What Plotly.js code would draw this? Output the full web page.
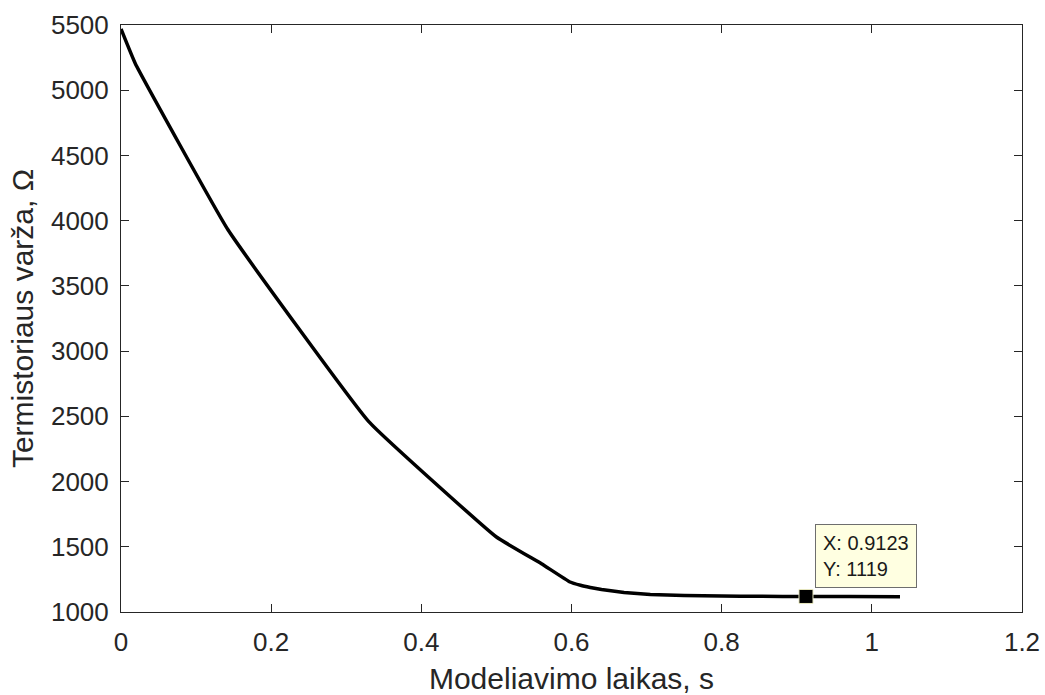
<!DOCTYPE html>
<html>
<head>
<meta charset="utf-8">
<script src="https://cdn.plot.ly/plotly-3.0.1.min.js"></script>
<style>html,body{margin:0;padding:0;background:#fff;}#chart{width:1045px;height:695px;}</style>
</head>
<body>
<div id="chart"></div>
<script>
// Simulation time, s
const timeS = [0, 0.019, 0.1425, 0.33, 0.5, 0.56, 0.598, 0.612, 0.625, 0.64, 0.67, 0.705, 0.75, 0.8, 0.85, 0.9123, 0.97, 1.0375];
// Thermistor resistance, Ohm
const resistance = [5470, 5205, 3930, 2460, 1575, 1370, 1230, 1205, 1188, 1172, 1150, 1135, 1126, 1122, 1120, 1119, 1118, 1117];
// Data tip
const tipX = [0.9123];
const tipY = [1119];
const xTicks = [0, 0.2, 0.4, 0.6, 0.8, 1, 1.2];
const xTickText = ['0', '0.2', '0.4', '0.6', '0.8', '1', '1.2'];
const yTicks = [1000, 1500, 2000, 2500, 3000, 3500, 4000, 4500, 5000, 5500];

const FONT = 'Liberation Sans, Arial, Helvetica, sans-serif';
const TXT = '#262626';

const traces = [
  {x: timeS, y: resistance, type: 'scatter', mode: 'lines',
   line: {color: '#000000', width: 3.5, shape: 'spline', smoothing: 0.3}, hoverinfo: 'skip'},
  {x: tipX, y: tipY, type: 'scatter', mode: 'markers',
   marker: {symbol: 'square', size: 14, color: '#000000', line: {color: '#e8e8c0', width: 1}}, hoverinfo: 'skip'}
];

const layout = {
  width: 1045, height: 695,
  margin: {l: 121, r: 23, t: 25, b: 83.3},
  paper_bgcolor: '#ffffff', plot_bgcolor: '#ffffff',
  showlegend: false,
  font: {family: FONT, color: TXT},
  xaxis: {
    range: [0, 1.2], tickvals: xTicks, ticktext: xTickText,
    ticks: 'inside', ticklen: 8, tickwidth: 1, tickcolor: TXT,
    showline: true, linecolor: TXT, linewidth: 1, mirror: 'ticks',
    showgrid: false, zeroline: false,
    tickfont: {size: 26, color: TXT, family: FONT},
    ticklabelstandoff: 7,
    title: {text: 'Modeliavimo laikas, s', font: {size: 30, color: TXT, family: FONT}, standoff: 12}
  },
  yaxis: {
    range: [1000, 5500], tickvals: yTicks,
    ticks: 'inside', ticklen: 8, tickwidth: 1, tickcolor: TXT,
    showline: true, linecolor: TXT, linewidth: 1, mirror: 'ticks',
    showgrid: false, zeroline: false,
    tickfont: {size: 26, color: TXT, family: FONT},
    ticklabelstandoff: 6,
    title: {text: 'Termistoriaus varža, Ω', font: {size: 30, color: TXT, family: FONT}, standoff: 8}
  },
  annotations: [{
    x: tipX[0], y: tipY[0], xref: 'x', yref: 'y',
    text: 'X: ' + tipX[0] + '<br>Y: ' + tipY[0],
    showarrow: false, xanchor: 'left', yanchor: 'bottom', align: 'left',
    xshift: 9, yshift: 8,
    bgcolor: '#ffffe1', bordercolor: '#6e6e6e', borderwidth: 1, borderpad: 7,
    font: {size: 20, color: '#1a1a1a', family: FONT}
  }]
};

Plotly.newPlot('chart', traces, layout, {displayModeBar: false, staticPlot: true});
</script>
</body>
</html>
